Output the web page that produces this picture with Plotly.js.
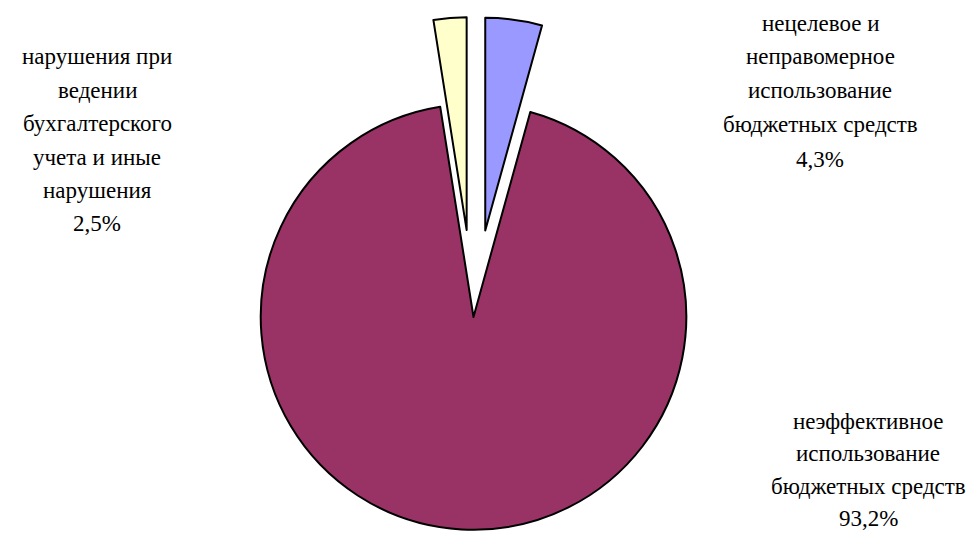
<!DOCTYPE html>
<html>
<head>
<meta charset="utf-8">
<script src="https://cdn.plot.ly/plotly-3.0.1.min.js"></script>
<style>
html,body{margin:0;padding:0;overflow:hidden;background:#fff;}
#chart{width:973px;height:640px;}
</style>
</head>
<body>
<div id="chart"></div>
<script>
const categories = [
  "нецелевое и<br>неправомерное<br>использование<br>бюджетных средств",
  "неэффективное<br>использование<br>бюджетных средств",
  "нарушения при<br>ведении<br>бухгалтерского<br>учета и иные<br>нарушения"
];
const values = [4.3, 93.2, 2.5];
const valueLabels = ["4,3%", "93,2%", "2,5%"];
const colors = ["#9999FF", "#993366", "#FFFFCC"];
const pulls = [0.41, 0, 0.41];
// label anchor (paper px) : center x, first line y, line step
const labelPos = [[820, 23, 34], [868, 421, 32.5], [97, 57, 33.4]];

const W = 973, H = 640, mt = 17, mb = 23;
const plotH = H - mt - mb;
const cx = 473.5;
const FONT = "'Liberation Serif', 'Times New Roman', serif";
const trace = {
  type: 'pie',
  values: values,
  labels: categories.map(c => c.replace(/<br>/g, ' ')),
  marker: {colors: colors, line: {color: '#000', width: 2}},
  pull: pulls,
  sort: false,
  direction: 'clockwise',
  rotation: 0,
  textinfo: 'none',
  hoverinfo: 'label+percent',
  domain: {x: [(cx - plotH/2)/W, (cx + plotH/2)/W], y: [0, 1]}
};

const annotations = [];
categories.forEach((c, i) => {
  const lines = c.split('<br>').concat([valueLabels[i]]);
  lines.forEach((ln, j) => {
    const py = labelPos[i][1] + j * labelPos[i][2];
    annotations.push({
      text: ln, showarrow: false, xref: 'paper', yref: 'paper',
      x: labelPos[i][0] / W, y: 1 - (py - mt) / plotH,
      xanchor: 'center', yanchor: 'middle',
      font: {family: FONT, size: 23, color: '#000'}
    });
  });
});

Plotly.newPlot('chart', [trace], {
  width: W, height: H,
  margin: {l: 0, r: 0, t: mt, b: mb},
  showlegend: false,
  paper_bgcolor: '#fff',
  font: {family: FONT},
  annotations: annotations
}, {displayModeBar: false, staticPlot: true});
</script>
</body>
</html>
